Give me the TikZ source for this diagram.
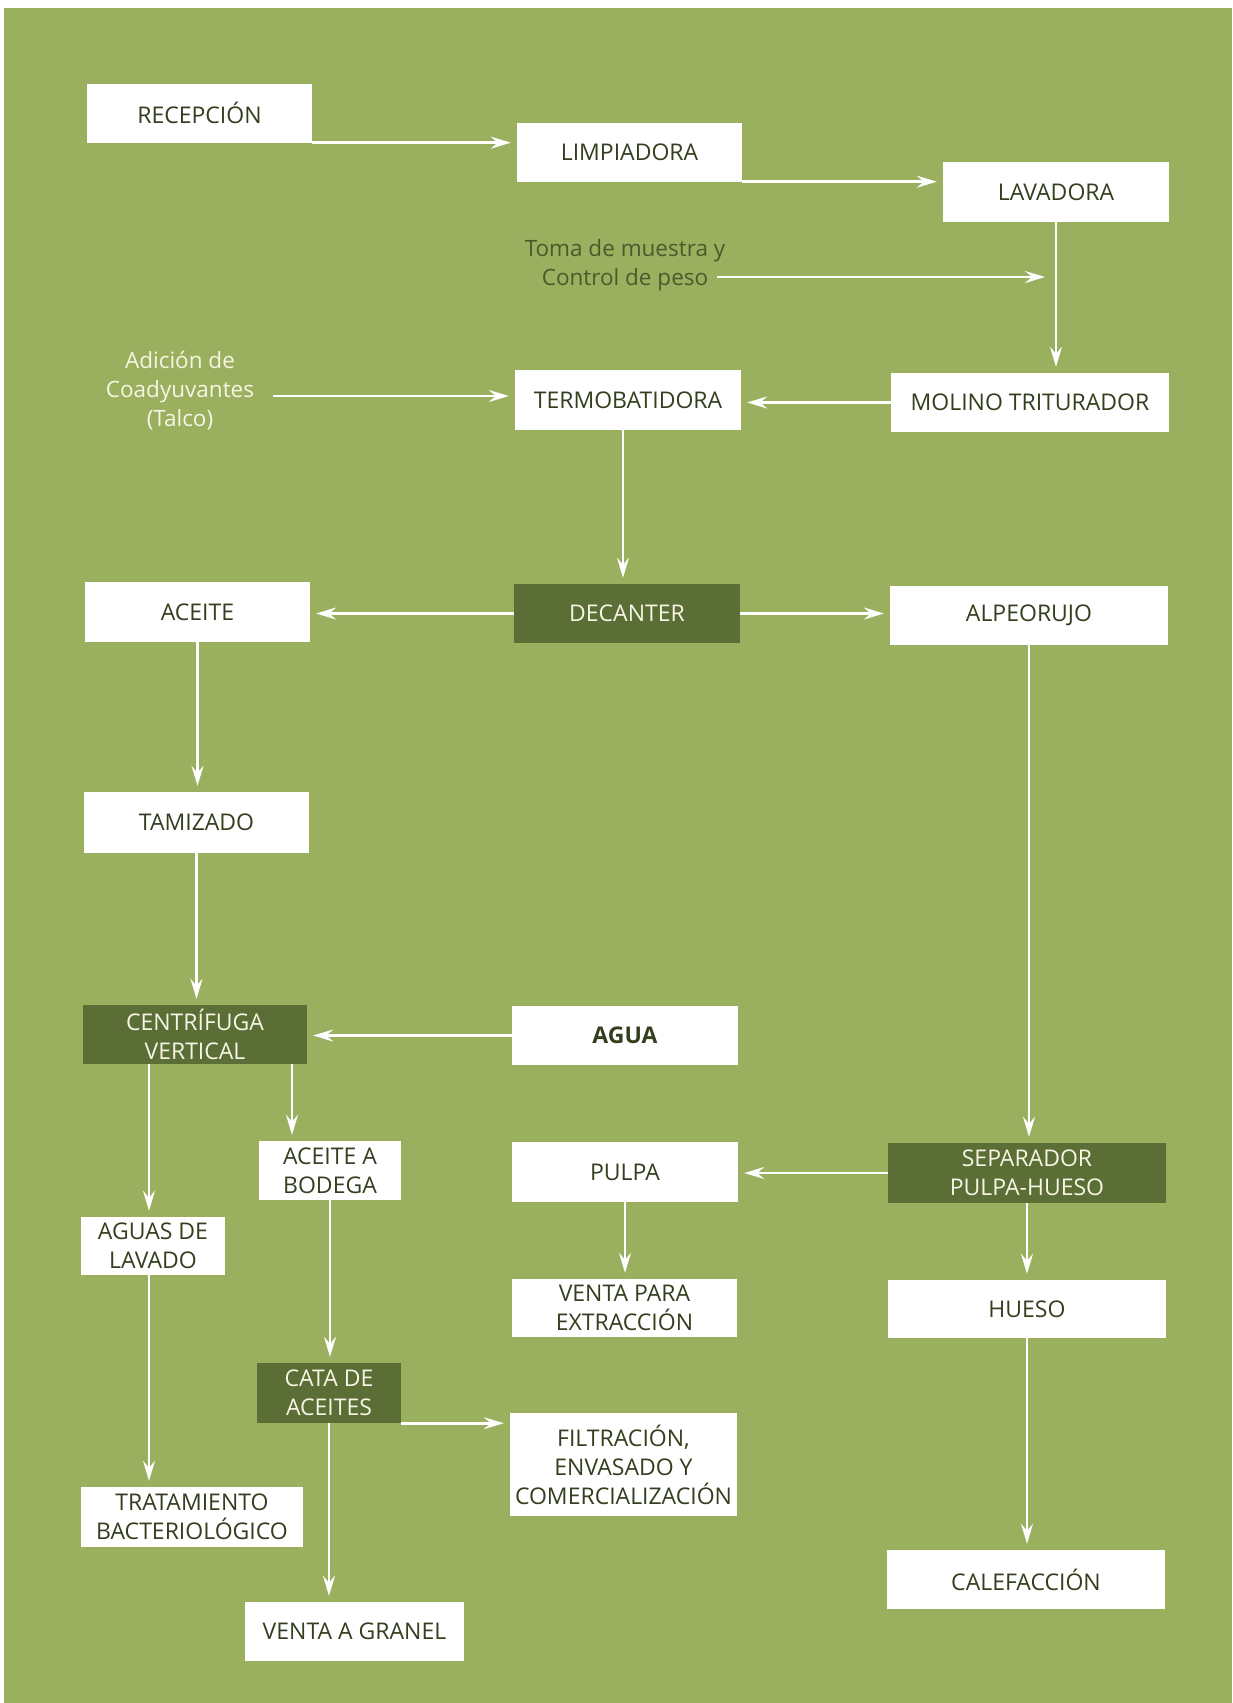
\documentclass[tikz,border=0pt]{standalone}
\usepackage{fontspec}
\setmainfont{Open Sans}
\usetikzlibrary{arrows.meta}
\definecolor{bg}{HTML}{9BB05F}
\definecolor{dk}{HTML}{5A6E36}
\definecolor{tx}{HTML}{333F1E}
\definecolor{cr}{HTML}{F7F5E4}
\definecolor{gt}{HTML}{4A5A2C}
\tikzset{
  box/.style={minimum height=59pt, inner sep=0pt, align=center, font=\fontsize{23}{29}\selectfont},
  wb/.style={box, fill=white, text=tx},
  db/.style={box, fill=dk, text=cr},
  lbl/.style={inner sep=3pt, align=center, font=\fontsize{22.5}{29}\selectfont},
  arr/.style={draw=white, line width=2.6pt, -{Stealth[length=20pt,width=12pt,inset=7pt]}, shorten >=6pt}
}
\begin{document}
\begin{tikzpicture}[x=1pt,y=-1pt]
\fill[white] (0,0) rectangle (1232,1703);
\fill[bg] (4,8) rectangle (1232,1703);
\useasboundingbox (0,0) rectangle (1232,1703);

\node[wb, minimum width=225pt] (rec) at (199.5,113) {RECEPCIÓN};
\node[wb, minimum width=225pt] (lim) at (629.5,152) {LIMPIADORA};
\node[wb, minimum width=226pt, minimum height=60pt] (lav) at (1056,192) {LAVADORA};
\node[lbl, text=gt] (toma1) at (625,251) {Toma de muestra y};
\node[lbl, text=gt] (toma2) at (625,280) {Control de peso};
\node[wb, minimum width=278pt] (mol) at (1030,402.5) {MOLINO TRITURADOR};
\node[wb, minimum width=226pt, minimum height=60pt] (ter) at (628,400) {TERMOBATIDORA};
\node[lbl, text=cr] (adi) at (180,391) {Adición de\\Coadyuvantes\\(Talco)};
\node[db, minimum width=226pt] (dec) at (627,613.5) {DECANTER};
\node[wb, minimum width=225pt, minimum height=60pt] (ace) at (197.5,612) {ACEITE};
\node[wb, minimum width=278pt] (alp) at (1029,615.5) {ALPEORUJO};
\node[wb, minimum width=225pt, minimum height=61pt] (tam) at (196.5,822.5) {TAMIZADO};
\node[db, minimum width=224pt] (cen) at (195,1034.5) {CENTRÍFUGA\\VERTICAL};
\node[wb, minimum width=226pt, font=\fontsize{23}{29}\selectfont\bfseries] (agua) at (625,1035.5) {AGUA};
\node[db, minimum width=278pt, minimum height=60pt] (sep) at (1027,1173) {SEPARADOR\\PULPA-HUESO};
\node[wb, minimum width=226pt, minimum height=60pt] (pul) at (625,1172) {PULPA};
\node[wb, minimum width=225pt, minimum height=58pt] (vpe) at (624.5,1308) {VENTA PARA\\EXTRACCIÓN};
\node[wb, minimum width=278pt, minimum height=58pt] (hue) at (1027,1309) {HUESO};
\node[wb, minimum width=278pt] (cal) at (1026,1579.5) {CALEFACCIÓN};
\node[wb, minimum width=142pt] (bod) at (330,1170.5) {ACEITE A\\BODEGA};
\node[wb, minimum width=144pt, minimum height=58pt] (agl) at (153,1246) {AGUAS DE\\LAVADO};
\node[wb, minimum width=222pt, minimum height=60pt] (tra) at (192,1517) {TRATAMIENTO\\BACTERIOLÓGICO};
\node[db, minimum width=144pt, minimum height=60pt] (cat) at (329,1393) {CATA DE\\ACEITES};
\node[wb, minimum width=227pt, minimum height=103pt] (fil) at (623.5,1464.5) {FILTRACIÓN,\\ENVASADO Y\\COMERCIALIZACIÓN};
\node[wb, minimum width=219pt] (vag) at (354.5,1631.5) {VENTA A GRANEL};

\coordinate (bodin) at ([xshift=-38pt]bod.north);
\coordinate (terout) at ([xshift=-5pt]ter.south);

\draw[arr] (rec.south east) -- (rec.south east -| lim.west);
\draw[arr] (lim.south east) -- (lim.south east -| lav.west);
\draw[arr, shorten >=11pt] ([xshift=6pt,yshift=3pt]toma2.east) -- ([yshift=3pt]toma2.east -| lav.south);
\draw[arr] (lav.south) -- (lav.south |- mol.north);
\draw[arr] (mol.west) -- (mol.west -| ter.east);
\draw[arr] ([xshift=16pt,yshift=-5pt]adi.east) -- ([yshift=-5pt]adi.east -| ter.west);
\draw[arr] (terout) -- (terout |- dec.north);
\draw[arr] (dec.west) -- (dec.west -| ace.east);
\draw[arr] (dec.east) -- (dec.east -| alp.west);
\draw[arr] (ace.south) -- (ace.south |- tam.north);
\draw[arr] (tam.south) -- (tam.south |- cen.north);
\draw[arr] (agua.west) -- (agua.west -| cen.east);
\draw[arr] (alp.south) -- (alp.south |- sep.north);
\draw[arr] (sep.west) -- (sep.west -| pul.east);
\draw[arr] (pul.south) -- (pul.south |- vpe.north);
\draw[arr] (sep.south) -- (sep.south |- hue.north);
\draw[arr] (hue.south) -- (hue.south |- cal.north);
\draw[arr] ([xshift=-4pt]agl.north |- cen.south) -- ([xshift=-4pt]agl.north);
\draw[arr] (bodin |- cen.south) -- (bodin);
\draw[arr] ([xshift=-4pt]agl.south) -- ([xshift=-4pt]agl.south |- tra.north);
\draw[arr] (bod.south) -- (bod.south |- cat.north);
\draw[arr] (cat.south east) -- (cat.south east -| fil.west);
\draw[arr] (cat.south) -- (cat.south |- vag.north);
\end{tikzpicture}
\end{document}
